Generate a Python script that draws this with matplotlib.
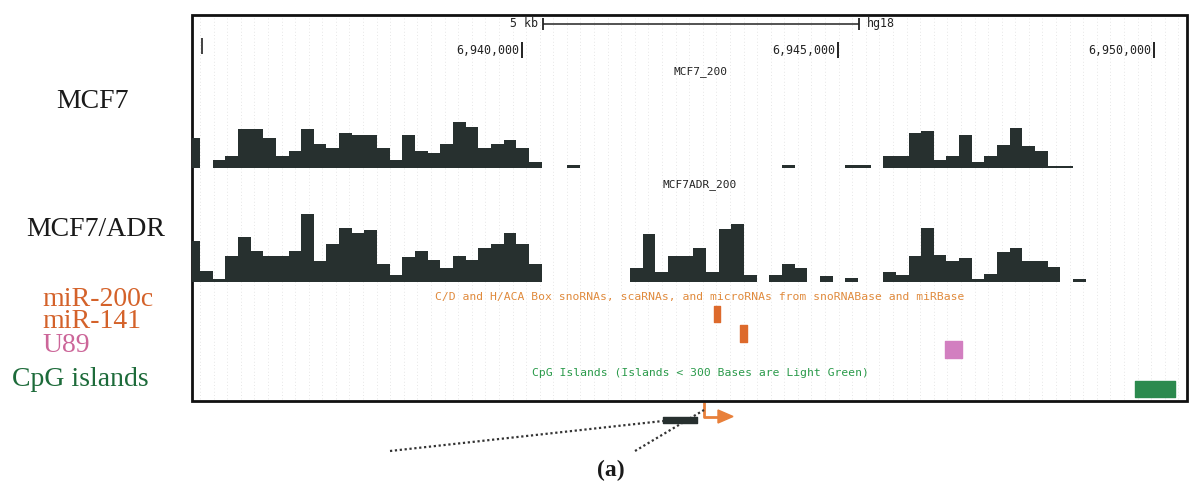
import matplotlib
matplotlib.use("Agg")
import matplotlib.pyplot as plt
from matplotlib.patches import Rectangle, Polygon
import numpy as np

W, H = 1192, 491

# hg18 chr12 window, coverage in 200 bp bins (bin index -> height, arbitrary units)
BIN_START = 6_935_120
BIN_SIZE = 200

mcf7_bins = [-2, 0, 1, 2, 3, 4, 5, 6, 7, 8, 9, 10, 11, 12, 13, 14, 15, 16, 17, 18, 19,
             20, 21, 22, 23, 24, 25, 28, 45, 50, 51,
             53, 54, 55, 56, 57, 58, 59, 60, 61, 62, 63, 64, 65, 66, 67]
mcf7_vals = [30, 8, 12, 39, 39, 30, 12, 17, 39, 24, 20, 35, 33, 33, 20, 8, 33, 17, 15, 24, 46,
             41, 20, 24, 28, 20, 6, 3, 3, 3, 3,
             12, 12, 35, 37, 8, 12, 33, 6, 12, 23, 40, 22, 17, 2, 2]

adr_bins = [-2, -1, 0, 1, 2, 3, 4, 5, 6, 7, 8, 9, 10, 11, 12, 13, 14, 15, 16, 17, 18, 19,
            20, 21, 22, 23, 24, 25,
            33, 34, 35, 36, 37, 38, 39, 40, 41, 42, 44, 45, 46, 48, 50,
            53, 54, 55, 56, 57, 58, 59, 60, 61, 62, 63, 64, 65, 66, 68]
adr_vals = [41, 11, 3, 26, 45, 31, 26, 26, 31, 68, 21, 38, 54, 49, 52, 18, 7, 25, 31, 22, 14, 26,
            22, 34, 38, 49, 38, 18,
            14, 48, 10, 26, 26, 34, 10, 53, 58, 7, 7, 18, 14, 6, 4,
            10, 7, 26, 54, 27, 21, 24, 3, 8, 30, 34, 21, 21, 15, 3]

feature_names = ["miR-200c", "miR-141", "U89"]
feature_start = [6_943_040, 6_943_450, 6_946_695]
feature_end = [6_943_135, 6_943_560, 6_946_960]
cpg_start = [6_949_700]
cpg_end = [6_950_330]
ruler_ticks = [6_940_000, 6_945_000, 6_950_000]
scale_start, scale_len = 6_940_340, 5000
promoter_start, promoter_end = 6_942_230, 6_942_770
tss = 6_942_880

# pixel <-> genome mapping of the browser image
PX_PER_BP = 0.0632
REF_BP, REF_PX = 6_940_000, 522
FRAME_L, FRAME_R, FRAME_T, FRAME_B = 192, 1187, 15, 401

BAR = "#27302f"
ORANGE = "#dd6a2c"
PINK = "#d27fc0"
GREEN = "#2c8a4e"
MONO = "DejaVu Sans Mono"
SERIF = "Liberation Serif"


def gx(px):
    return REF_BP + (px - REF_PX) / PX_PER_BP


def fpos(px, py):
    return px / W, 1 - py / H


fig = plt.figure(figsize=(W / 100, H / 100), dpi=100)
ov = fig.add_axes([0, 0, 1, 1])
ov.set_xlim(gx(0), gx(W))
ov.set_ylim(H, 0)
ov.axis("off")

# browser frame and faint guidelines
ov.add_patch(Rectangle((gx(FRAME_L), FRAME_T), gx(FRAME_R) - gx(FRAME_L), FRAME_B - FRAME_T,
                       fill=False, lw=2, edgecolor="#111111", zorder=5))
for g in np.arange(gx(200), gx(FRAME_R - 3), 215):
    ov.vlines(g, FRAME_T + 3, FRAME_B - 2, color="#dedede", lw=0.6,
              linestyle=(0, (1, 3)), zorder=0)

# ruler
ov.vlines(gx(202), 38, 54, color="#222222", lw=1.2)
for t in ruler_ticks:
    ov.vlines(t, 42, 58, color="#222222", lw=1.4)
    ov.text(t - 3 / PX_PER_BP, 50, f"{t:,}", ha="right", va="center",
            family=MONO, fontsize=8.4, color="#222222")
ov.hlines(24, scale_start, scale_start + scale_len, color="#444444", lw=1.3)
ov.vlines([scale_start, scale_start + scale_len], 18, 30, color="#222222", lw=1.3)
ov.text(scale_start - 5 / PX_PER_BP, 23, "5 kb", ha="right", va="center",
        family=MONO, fontsize=8.4, color="#222222")
ov.text(scale_start + scale_len + 7 / PX_PER_BP, 23, "hg18", ha="left", va="center",
        family=MONO, fontsize=8.4, color="#222222")

# track titles
mid = gx(700)
ov.text(mid, 72, "MCF7_200", ha="center", va="center", family=MONO, fontsize=8, color="#222222")
ov.text(mid, 185, "MCF7ADR_200", ha="center", va="center", family=MONO, fontsize=8,
        color="#222222")
ov.text(mid, 297, "C/D and H/ACA Box snoRNAs, scaRNAs, and microRNAs from snoRNABase and miRBase",
        ha="center", va="center", family=MONO, fontsize=8.2, color="#e08a3c")
ov.text(mid, 373, "CpG Islands (Islands < 300 Bases are Light Green)",
        ha="center", va="center", family=MONO, fontsize=8.2, color="#2a9a4a")


# coverage histograms
def track(bins, vals, base_px, height_px):
    ax = fig.add_axes([FRAME_L / W, 1 - base_px / H, (FRAME_R - FRAME_L) / W, height_px / H])
    ax.set_xlim(gx(FRAME_L + 1), gx(FRAME_R))
    ax.set_ylim(0, height_px)
    ax.axis("off")
    left = BIN_START + np.array(bins) * BIN_SIZE
    ax.bar(left, vals, width=BIN_SIZE, align="edge", color=BAR, linewidth=0)
    return ax


track(mcf7_bins, mcf7_vals, 168, 56)
track(adr_bins, adr_vals, 282, 72)

# small RNA features and CpG island
feature_rows = [(306, 16), (325, 17), (341, 17)]
feature_colors = [ORANGE, ORANGE, PINK]
for s, e, row, c in zip(feature_start, feature_end, feature_rows, feature_colors):
    ov.broken_barh([(s, e - s)], row, color=c, zorder=3)
for s, e in zip(cpg_start, cpg_end):
    ov.broken_barh([(s, e - s)], (381, 16), color=GREEN, zorder=3)

# promoter block, TSS arrow and zoom lines below the browser
ov.broken_barh([(promoter_start, promoter_end - promoter_start)], (417, 6), color=BAR, zorder=3)
ov.plot([tss, tss, gx(719)], [402, 416.5, 416.5], color="#e8803a", lw=2, solid_capstyle="butt")
ov.add_patch(Polygon([(gx(718), 410), (gx(733), 416.5), (gx(718), 423)],
                     closed=True, color="#e8803a"))
ov.plot([gx(390), promoter_start], [451, 421], color="#333333", lw=1.6, linestyle=(0, (1, 1.2)))
ov.plot([gx(635), tss], [451, 410], color="#333333", lw=1.6, linestyle=(0, (1, 1.2)), zorder=2)

# left-hand labels
fig.text(*fpos(92, 102), "MCF7", ha="center", va="center", family=SERIF, fontsize=20,
         color="#1a1a1a")
fig.text(*fpos(96, 230), "MCF7/ADR", ha="center", va="center", family=SERIF, fontsize=20,
         color="#1a1a1a")
label_y = [299, 322, 345]
label_colors = ["#d4622a", "#d4622a", "#cc6699"]
for name, y, c in zip(feature_names, label_y, label_colors):
    fig.text(*fpos(42, y), name, ha="left", va="center", family=SERIF, fontsize=20, color=c)
fig.text(*fpos(12, 380), "CpG islands", ha="left", va="center", family=SERIF, fontsize=20,
         color="#1d6b3a")

fig.text(*fpos(611, 470), "(a)", ha="center", va="center", family=SERIF, fontsize=17,
         weight="bold", color="#1a1a1a")

fig.savefig("out.png", dpi=100, facecolor="white")
